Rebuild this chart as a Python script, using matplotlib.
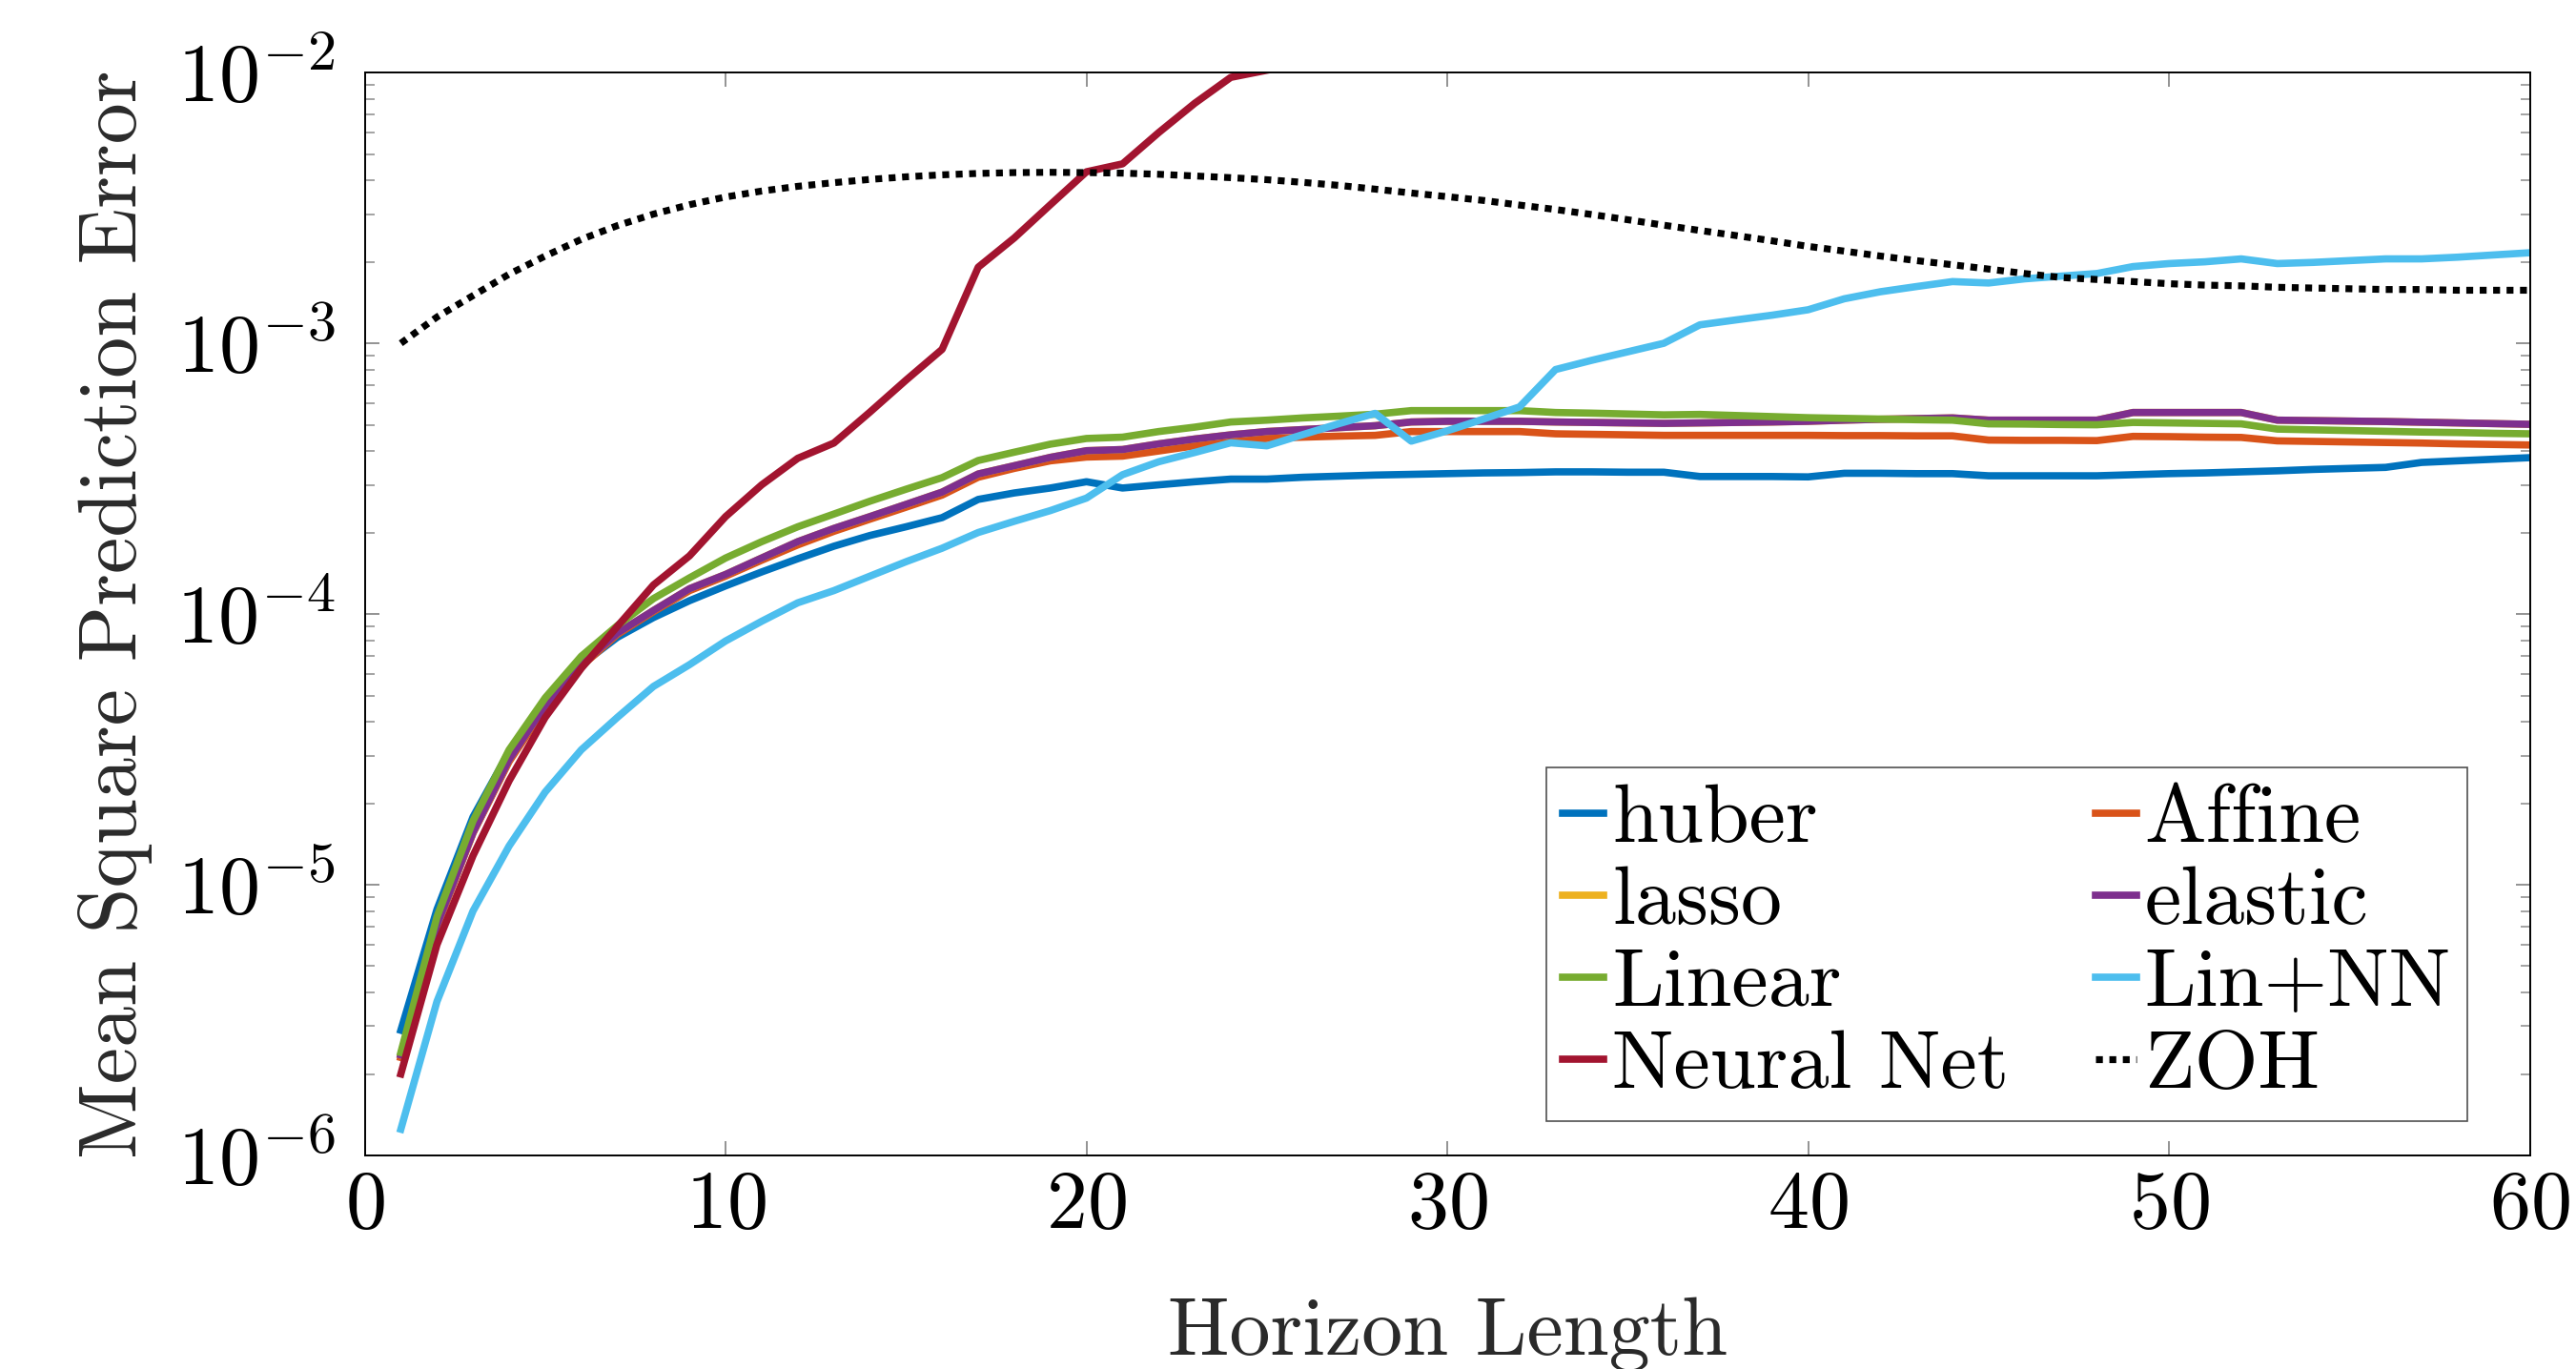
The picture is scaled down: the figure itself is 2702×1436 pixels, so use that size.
import math
import matplotlib
matplotlib.use("Agg")
import matplotlib.pyplot as plt
from matplotlib.ticker import FixedLocator, LogLocator, NullFormatter, FuncFormatter

plt.rcParams['font.family'] = 'serif'
plt.rcParams['font.serif'] = ['cmr10']
plt.rcParams['mathtext.fontset'] = 'cm'
plt.rcParams['axes.formatter.use_mathtext'] = True

# horizon steps
horizon = list(range(1, 61))

huber = [2.9e-6, 8.1e-6, 1.78e-5, 3.1e-5, 4.8e-5, 6.5e-5, 8.2e-5, 9.7e-5, 1.12e-4, 1.27e-4,
         1.43e-4, 1.6e-4, 1.78e-4, 1.95e-4, 2.1e-4, 2.27e-4, 2.65e-4, 2.8e-4, 2.92e-4, 3.08e-4,
         2.92e-4, 3.0e-4, 3.08e-4, 3.15e-4, 3.15e-4, 3.2e-4, 3.23e-4, 3.26e-4, 3.28e-4, 3.3e-4,
         3.32e-4, 3.33e-4, 3.35e-4, 3.35e-4, 3.34e-4, 3.34e-4, 3.22e-4, 3.22e-4, 3.22e-4, 3.21e-4,
         3.31e-4, 3.31e-4, 3.3e-4, 3.3e-4, 3.24e-4, 3.24e-4, 3.24e-4, 3.24e-4, 3.27e-4, 3.3e-4,
         3.32e-4, 3.35e-4, 3.38e-4, 3.42e-4, 3.45e-4, 3.48e-4, 3.63e-4, 3.68e-4, 3.73e-4, 3.78e-4]

affine = [2.3e-6, 7.0e-6, 1.55e-5, 2.85e-5, 4.5e-5, 6.4e-5, 8.4e-5, 1.02e-4, 1.22e-4, 1.38e-4,
          1.58e-4, 1.8e-4, 2.02e-4, 2.24e-4, 2.48e-4, 2.75e-4, 3.2e-4, 3.45e-4, 3.68e-4, 3.8e-4,
          3.83e-4, 4.0e-4, 4.18e-4, 4.32e-4, 4.45e-4, 4.5e-4, 4.54e-4, 4.57e-4, 4.72e-4, 4.72e-4,
          4.72e-4, 4.72e-4, 4.63e-4, 4.61e-4, 4.59e-4, 4.57e-4, 4.57e-4, 4.57e-4, 4.57e-4, 4.57e-4,
          4.56e-4, 4.56e-4, 4.55e-4, 4.55e-4, 4.39e-4, 4.38e-4, 4.38e-4, 4.37e-4, 4.53e-4, 4.52e-4,
          4.5e-4, 4.49e-4, 4.36e-4, 4.34e-4, 4.32e-4, 4.3e-4, 4.28e-4, 4.25e-4, 4.23e-4, 4.21e-4]

elastic = [2.35e-6, 7.1e-6, 1.56e-5, 2.9e-5, 4.6e-5, 6.5e-5, 8.5e-5, 1.03e-4, 1.24e-4, 1.4e-4,
           1.61e-4, 1.85e-4, 2.07e-4, 2.29e-4, 2.54e-4, 2.82e-4, 3.29e-4, 3.53e-4, 3.79e-4, 4.01e-4,
           4.05e-4, 4.25e-4, 4.43e-4, 4.59e-4, 4.72e-4, 4.8e-4, 4.88e-4, 4.96e-4, 5.12e-4, 5.15e-4,
           5.15e-4, 5.15e-4, 5.12e-4, 5.1e-4, 5.08e-4, 5.06e-4, 5.08e-4, 5.1e-4, 5.12e-4, 5.15e-4,
           5.2e-4, 5.24e-4, 5.27e-4, 5.3e-4, 5.2e-4, 5.2e-4, 5.2e-4, 5.2e-4, 5.55e-4, 5.55e-4,
           5.55e-4, 5.55e-4, 5.2e-4, 5.18e-4, 5.16e-4, 5.14e-4, 5.11e-4, 5.08e-4, 5.05e-4, 5.02e-4]

# lasso sits right under elastic in the picture
lasso = list(elastic)

linear = [2.4e-6, 7.6e-6, 1.72e-5, 3.15e-5, 4.9e-5, 6.98e-5, 9.06e-5, 1.14e-4, 1.36e-4, 1.61e-4,
          1.85e-4, 2.1e-4, 2.34e-4, 2.61e-4, 2.89e-4, 3.19e-4, 3.69e-4, 3.96e-4, 4.24e-4, 4.45e-4,
          4.5e-4, 4.72e-4, 4.9e-4, 5.12e-4, 5.2e-4, 5.3e-4, 5.38e-4, 5.47e-4, 5.64e-4, 5.64e-4,
          5.64e-4, 5.64e-4, 5.55e-4, 5.52e-4, 5.48e-4, 5.44e-4, 5.46e-4, 5.41e-4, 5.36e-4, 5.31e-4,
          5.28e-4, 5.25e-4, 5.22e-4, 5.2e-4, 5.04e-4, 5.03e-4, 5.01e-4, 5.0e-4, 5.1e-4, 5.08e-4,
          5.06e-4, 5.04e-4, 4.82e-4, 4.79e-4, 4.76e-4, 4.73e-4, 4.7e-4, 4.68e-4, 4.65e-4, 4.63e-4]

lin_nn = [1.25e-6, 3.7e-6, 8.0e-6, 1.39e-5, 2.2e-5, 3.15e-5, 4.15e-5, 5.4e-5, 6.5e-5, 7.95e-5,
          9.4e-5, 1.1e-4, 1.22e-4, 1.38e-4, 1.56e-4, 1.75e-4, 2.0e-4, 2.2e-4, 2.41e-4, 2.68e-4,
          3.27e-4, 3.65e-4, 3.95e-4, 4.29e-4, 4.18e-4, 4.6e-4, 5.05e-4, 5.51e-4, 4.35e-4, 4.75e-4,
          5.25e-4, 5.82e-4, 8.0e-4, 8.65e-4, 9.3e-4, 1.0e-3, 1.17e-3, 1.22e-3, 1.27e-3, 1.33e-3,
          1.46e-3, 1.55e-3, 1.62e-3, 1.69e-3, 1.67e-3, 1.73e-3, 1.77e-3, 1.81e-3, 1.92e-3, 1.97e-3,
          2.0e-3, 2.05e-3, 1.97e-3, 1.99e-3, 2.02e-3, 2.05e-3, 2.05e-3, 2.08e-3, 2.12e-3, 2.16e-3]

# neural net leaves the plot after step 25
neural = [2.0e-6, 6.0e-6, 1.28e-5, 2.42e-5, 4.15e-5, 6.3e-5, 9.0e-5, 1.28e-4, 1.64e-4, 2.29e-4,
          3.0e-4, 3.76e-4, 4.28e-4, 5.57e-4, 7.31e-4, 9.5e-4, 1.91e-3, 2.45e-3, 3.25e-3, 4.3e-3,
          4.6e-3, 6.0e-3, 7.7e-3, 9.6e-3, 1.02e-2]

zoh = [1.0e-3, 1.25e-3, 1.5e-3, 1.8e-3, 2.1e-3, 2.42e-3, 2.72e-3, 3.0e-3, 3.25e-3, 3.47e-3,
       3.65e-3, 3.8e-3, 3.92e-3, 4.03e-3, 4.12e-3, 4.19e-3, 4.24e-3, 4.27e-3, 4.28e-3, 4.27e-3,
       4.25e-3, 4.21e-3, 4.15e-3, 4.09e-3, 4.02e-3, 3.93e-3, 3.83e-3, 3.71e-3, 3.59e-3, 3.48e-3,
       3.37e-3, 3.24e-3, 3.12e-3, 2.99e-3, 2.86e-3, 2.73e-3, 2.61e-3, 2.5e-3, 2.39e-3, 2.28e-3,
       2.19e-3, 2.1e-3, 2.02e-3, 1.95e-3, 1.88e-3, 1.81e-3, 1.75e-3, 1.72e-3, 1.69e-3, 1.66e-3,
       1.64e-3, 1.63e-3, 1.61e-3, 1.6e-3, 1.59e-3, 1.58e-3, 1.58e-3, 1.57e-3, 1.57e-3, 1.57e-3]

fs = 62
lw = 5.5

fig = plt.figure(figsize=(27.02, 14.36), dpi=100)
ax = fig.add_axes([0.1416, 0.156, 0.8405, 0.791])

h_huber, = ax.plot(horizon, huber, color='#0072BD', lw=lw, label='huber')
h_aff, = ax.plot(horizon, affine, color='#D95319', lw=lw, label='Affine')
h_lasso, = ax.plot(horizon, lasso, color='#EDB120', lw=lw, label='lasso')
h_el, = ax.plot(horizon, elastic, color='#7E2F8E', lw=lw, label='elastic')
h_lin, = ax.plot(horizon, linear, color='#77AC30', lw=lw, label='Linear')
h_lnn, = ax.plot(horizon, lin_nn, color='#4DBEEE', lw=lw, label='Lin+NN')
h_nn, = ax.plot(horizon[:len(neural)], neural, color='#A2142F', lw=lw, label='Neural Net')
h_zoh, = ax.plot(horizon, zoh, color='black', lw=5.2, dashes=(1.0, 0.95),
                 dash_capstyle='butt', label='ZOH')

ax.set_yscale('log')
ax.set_xlim(0, 60)
ax.set_ylim(1e-6, 1e-2)

ax.xaxis.set_major_locator(FixedLocator([0, 10, 20, 30, 40, 50, 60]))
ax.yaxis.set_major_locator(FixedLocator([1e-6, 1e-5, 1e-4, 1e-3, 1e-2]))
ax.yaxis.set_minor_locator(LogLocator(base=10, subs=range(2, 10), numticks=20))
ax.yaxis.set_minor_formatter(NullFormatter())
ax.yaxis.set_major_formatter(FuncFormatter(lambda v, p: r'$10^{%d}$' % round(math.log10(v))))

ax.tick_params(which='both', direction='in', top=True, right=True, color='#8a8a8a')
ax.tick_params(which='major', length=11, width=1.3, labelsize=fs)
ax.tick_params(which='minor', length=7, width=1.1)
ax.tick_params(axis='x', which='major', pad=11)
ax.tick_params(axis='y', which='major', pad=22)
for s in ax.spines.values():
    s.set_linewidth(1.4)

ax.set_xlabel('Horizon Length', fontsize=fs, labelpad=40, color='#2a2a2a')
ax.set_ylabel('Mean Square Prediction Error', fontsize=fs, labelpad=18, color='#2a2a2a')

handles = [h_huber, h_lasso, h_lin, h_nn, h_aff, h_el, h_lnn, h_zoh]
leg = ax.legend(handles=handles, ncol=2, fontsize=fs, loc='lower right',
                bbox_to_anchor=(0.971, 0.032), borderaxespad=0, fancybox=False,
                framealpha=1, edgecolor='#505050', handlelength=0.5, handletextpad=0.1,
                labelspacing=0.1, columnspacing=1.05, borderpad=0.2)
leg.get_frame().set_linewidth(1.2)

fig.savefig('out.png', dpi=100)
